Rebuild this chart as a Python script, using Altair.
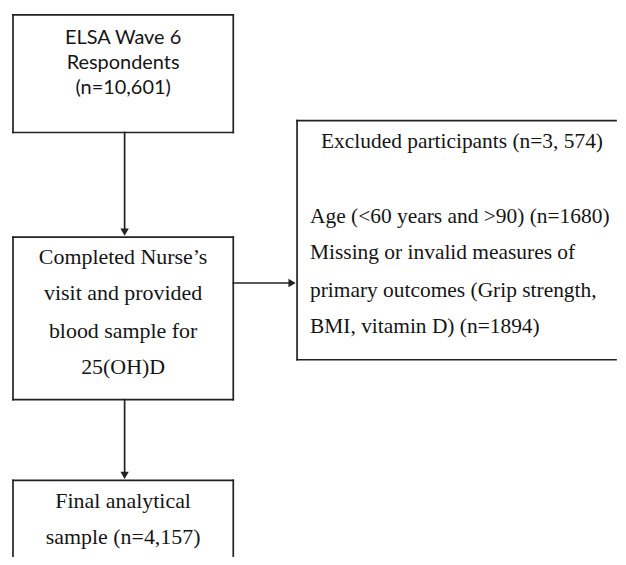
import altair as alt
import pandas as pd

# --- flowchart content (texts) ---
box1_lines = ["ELSA Wave 6", "Respondents", "(n=10,601)"]
box2_lines = ["Completed Nurse\u2019s", "visit and provided", "blood sample for", "25(OH)D"]
box3_lines = ["Final analytical", "sample (n=4,157)"]
box4_title = ["Excluded participants (n=3, 574)"]
box4_lines = ["Age (<60 years and >90) (n=1680)",
              "Missing or invalid measures of",
              "primary outcomes (Grip strength,",
              "BMI, vitamin D) (n=1894)"]

W, H = 610, 549
RIGHT, BOTTOM = 8 + W, 8 + H

# --- layout (pixel coordinates of the diagram) ---
box_x0 = [13, 13, 13, 298]
box_x1 = [234, 234, 234, RIGHT + 20]
box_y0 = [14, 237, 481, 120]
box_y1 = [132, 400, BOTTOM + 20, 360]

shaft_x = [125, 125, 234]
shaft_x2 = [125, 125, 292]
shaft_y = [132, 400, 283]
shaft_y2 = [232, 476, 283]

head_x = [125, 125, 293]
head_y = [232, 476, 283]
head_shape = ["triangle-down", "triangle-down", "triangle-right"]

box1_y = [37, 62, 87]
box2_y = [257, 293, 331, 367]
box3_y = [502, 538]
box4_title_y = [142]
box4_y = [217, 253, 291, 327]

xs = alt.Scale(domain=[8, RIGHT], nice=False, zero=False)
ys = alt.Scale(domain=[8, BOTTOM], nice=False, zero=False, reverse=True)

# box edges as segments, only the sides that lie within the page
seg = {"x": [], "x2": [], "y": [], "y2": []}
for x0, x1, y0, y1 in zip(box_x0, box_x1, box_y0, box_y1):
    xe = min(x1, RIGHT)
    ye = min(y1, BOTTOM)
    sides = [(x0, xe, y0, y0), (x0, x0, y0, ye)]
    if y1 <= BOTTOM:
        sides.append((x0, xe, y1, y1))
    if x1 <= RIGHT:
        sides.append((x1, x1, y0, ye))
    for a, b, c, d in sides:
        seg["x"].append(a); seg["x2"].append(b); seg["y"].append(c); seg["y2"].append(d)
for a, b, c, d in zip(shaft_x, shaft_x2, shaft_y, shaft_y2):
    seg["x"].append(a); seg["x2"].append(b); seg["y"].append(c); seg["y2"].append(d)
segs = pd.DataFrame(seg)
heads = pd.DataFrame({"x": head_x, "y": head_y, "shape": head_shape})

LINE = "#222222"
TXT = "#151515"
SERIF = "Liberation Serif"
SANS = "Lato"

rules = alt.Chart(segs).mark_rule(color=LINE, strokeWidth=1.7, strokeCap="square").encode(
    x=alt.X("x:Q", scale=xs, axis=None), x2="x2:Q",
    y=alt.Y("y:Q", scale=ys, axis=None), y2="y2:Q")

arrowheads = alt.Chart(heads).mark_point(filled=True, color=LINE, size=70, opacity=1).encode(
    x=alt.X("x:Q", scale=xs, axis=None),
    y=alt.Y("y:Q", scale=ys, axis=None),
    shape=alt.Shape("shape:N", scale=None, legend=None))


def text_layer(lines, ys_list, x, align, font, size):
    df = pd.DataFrame({"t": lines, "y": ys_list, "x": [x] * len(lines)})
    return alt.Chart(df).mark_text(align=align, baseline="middle", font=font,
                                   fontSize=size, color=TXT).encode(
        x=alt.X("x:Q", scale=xs, axis=None),
        y=alt.Y("y:Q", scale=ys, axis=None),
        text="t:N")


t1 = text_layer(box1_lines, box1_y, 123.5, "center", SANS, 20)
t2 = text_layer(box2_lines, box2_y, 123.5, "center", SERIF, 22)
t3 = text_layer(box3_lines, box3_y, 123.5, "center", SERIF, 22)
t4a = text_layer(box4_title, box4_title_y, 463.5, "center", SERIF, 21.5)
t4b = text_layer(box4_lines, box4_y, 311, "left", SERIF, 21.5)

chart = alt.layer(rules, arrowheads, t1, t2, t3, t4a, t4b).properties(
    width=W, height=H, padding=0
).configure_view(stroke=None)

chart.save("out.html", embed_options={"renderer": "svg", "actions": False})
